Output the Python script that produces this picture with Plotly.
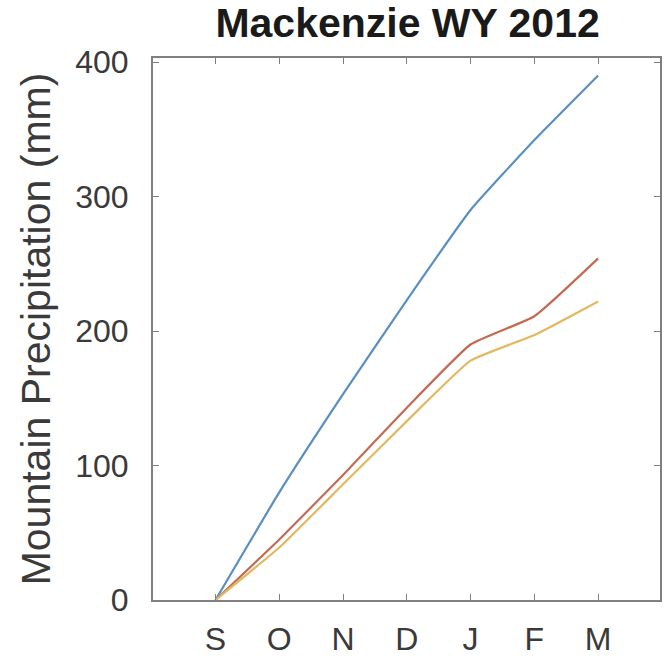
import plotly.graph_objects as go

months = ["S", "O", "N", "D", "J", "F", "M"]
month_pos = [0, 1, 2, 3, 4, 5, 6]
blue_vals = [0, 80, 153, 223, 290, 342, 390]
red_vals = [0, 45, 93, 143, 190, 211, 254]
yellow_vals = [0, 39, 86, 133, 178, 197, 222]

fig = go.Figure()
for vals, col in [(blue_vals, "#5a8fc4"), (red_vals, "#c46a52"), (yellow_vals, "#e2b860")]:
    fig.add_trace(go.Scatter(x=month_pos, y=vals, mode="lines",
                             line=dict(color=col, width=2.2, shape="spline", smoothing=0.4),
                             showlegend=False, hoverinfo="skip"))

FONT = "Liberation Sans, Arial"
axis_common = dict(showline=True, linecolor="#808080", linewidth=2, mirror="ticks",
                   ticks="inside", ticklen=6, tickcolor="#808080", showgrid=False,
                   zeroline=False, tickfont=dict(family=FONT, size=32, color="#3a3a3a"))

fig.update_layout(
    width=666, height=670,
    margin=dict(l=153, r=4, t=58, b=70),
    paper_bgcolor="white", plot_bgcolor="white",
    title=dict(text="<b>Mackenzie WY 2012</b>", x=0.612, xanchor="center", y=0.966, yanchor="middle",
               font=dict(family=FONT, size=41, color="#1a1a1a")),
    xaxis=dict(range=[-0.98, 6.97], tickmode="array", tickvals=month_pos, ticktext=months,
               ticklabelstandoff=10, **axis_common),
    yaxis=dict(range=[0, 403], tickmode="array", tickvals=[0, 100, 200, 300, 400],
               ticklabelstandoff=16,
               title=dict(text="Mountain Precipitation (mm)", standoff=12,
                          font=dict(family=FONT, size=41, color="#3a3a3a")),
               **axis_common),
)

fig.write_html("out.html")
